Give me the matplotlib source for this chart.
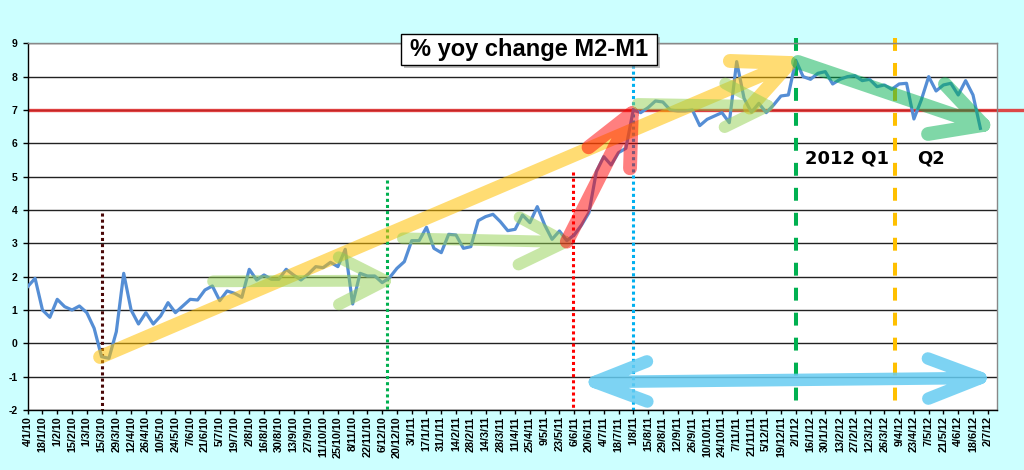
import numpy as np
import pandas as pd
import matplotlib
matplotlib.use("Agg")
import matplotlib.pyplot as plt
from matplotlib.patches import Rectangle

# ---------------- data ----------------
start_date = "2010-01-04"
values = [1.70, 1.95, 1.00, 0.78, 1.32, 1.10, 1.00, 1.12, 0.92, 0.45,
          -0.40, -0.45, 0.35, 2.10, 1.00, 0.58, 0.92, 0.58, 0.82, 1.22,
          0.92, 1.12, 1.32, 1.30, 1.60, 1.72, 1.28, 1.57, 1.50, 1.38,
          2.22, 1.90, 2.05, 1.92, 1.92, 2.22, 2.05, 1.90, 2.08, 2.30,
          2.27, 2.43, 2.30, 2.82, 1.18, 2.10, 2.02, 2.02, 1.82, 1.97,
          2.25, 2.45, 3.08, 3.08, 3.48, 2.85, 2.72, 3.27, 3.25, 2.85,
          2.90, 3.68, 3.80, 3.87, 3.65, 3.38, 3.42, 3.85, 3.62, 4.10,
          3.55, 3.12, 3.37, 3.08, 3.25, 3.55, 3.92, 5.15, 5.60, 5.35,
          5.72, 5.85, 7.00, 6.92, 7.07, 7.27, 7.24, 7.00, 6.97, 6.97,
          7.00, 6.53, 6.72, 6.82, 6.92, 6.62, 8.45, 7.35, 6.93, 7.20,
          6.92, 7.15, 7.42, 7.45, 8.49, 8.00, 7.92, 8.10, 8.15, 7.78,
          7.92, 8.00, 8.03, 7.88, 7.92, 7.70, 7.75, 7.62, 7.78, 7.80,
          6.73, 7.30, 8.00, 7.57, 7.75, 7.80, 7.45, 7.88, 7.45, 6.45]
tick_dates = pd.date_range(start_date, "2012-07-02", freq="14D")
tick_labels = [f"{d.day}/{d.month}/{d.year % 100}" for d in tick_dates]
y_ticks = list(range(-2, 10))
threshold = 7
title = "% yoy change M2-M1"
q_labels = ["2012 Q1", "Q2"]

# ---------------- figure ----------------
W, H = 1024, 470
fig = plt.figure(figsize=(W / 100, H / 100), dpi=100, facecolor="#CCFFFF")
L, R, T, B = 27.7, 997.0, 43.3, 410.0
ax = fig.add_axes([L / W, (H - B) / H, (R - L) / W, (B - T) / H])
ax.set_facecolor("white")

x = np.arange(len(values))
week_of = lambda d: (pd.Timestamp(d) - pd.Timestamp(start_date)).days / 7.0
tick_pos = [week_of(d) for d in tick_dates]

ax.set_xlim(0, 131.25)
ax.set_ylim(-2, 9)
ax.set_yticks(y_ticks)
ax.set_yticklabels([str(v) for v in y_ticks], fontsize=7.5, fontweight="bold",
                   family="Liberation Sans")
ax.set_xticks(tick_pos)
ax.set_xticklabels(tick_labels, rotation=90, fontsize=7.8, fontweight="bold",
                   family="Liberation Sans")
ax.tick_params(axis="x", direction="out", length=3, width=1, pad=1.5, colors="black")
ax.tick_params(axis="y", direction="out", length=3.5, width=1, pad=4, colors="black")
ax.yaxis.grid(True, color="#222222", lw=1.0, zorder=1)
ax.set_axisbelow(True)
for s in ["left", "bottom"]:
    ax.spines[s].set_color("black")
    ax.spines[s].set_linewidth(1.0)
for s in ["top", "right"]:
    ax.spines[s].set_color("#888888")
    ax.spines[s].set_linewidth(1.0)

# threshold line extending to figure edge
ax.plot([0, 131.25 + (W - R) / 7.385], [threshold, threshold], color="#E02828",
        alpha=0.85, lw=2.4, zorder=2, clip_on=False, solid_capstyle="butt")

# data line
ax.plot(x, values, color="#558ED5", lw=2.3, zorder=3, solid_joinstyle="round")

# vertical marker lines
def vline(xw, ytop, color, style, lw=2.2):
    ax.plot([xw, xw], [ytop, -2], color=color, lw=lw, linestyle=style,
            dash_capstyle="butt", zorder=2.5, clip_on=False)

vline(10.0, 3.9, "#4A0808", (0, (1, 1)))
vline(48.6, 4.9, "#00B050", (0, (1, 1)))
vline(73.9, 5.15, "#FF0000", (0, (1, 1)))
vline(82.0, 8.35, "#00B0F0", (0, (1, 1)))
vline(104.1, 9.15, "#00B050", (0, (3.2, 3.0)), lw=2.9)
vline(117.5, 9.15, "#FFC000", (0, (3.2, 3.0)), lw=2.9)

# arrows (open heads, drawn in pixel geometry)
def arrow(x0, y0, x1, y1, color, alpha, lw, head_px, ang=25, both=False, z=4):
    Tr = ax.transData
    p0 = np.array(Tr.transform((x0, y0)))
    p1 = np.array(Tr.transform((x1, y1)))
    d = (p1 - p0) / np.linalg.norm(p1 - p0)

    def head(tip, dv):
        back = -dv
        out = []
        for s in (1, -1):
            a = np.deg2rad(ang * s)
            r = np.array([back[0] * np.cos(a) - back[1] * np.sin(a),
                          back[0] * np.sin(a) + back[1] * np.cos(a)])
            out.append(tip + r * head_px)
        return [out[0], tip, out[1]]

    segs = [[p0, p1], head(p1, d)]
    if both:
        segs.append(head(p0, -d))
    pts = []
    for sg in segs:
        pts.extend(sg)
        pts.append(np.array([np.nan, np.nan]))
    pts = np.array(pts)
    inv = Tr.inverted()
    data = np.array([inv.transform(p) if not np.isnan(p[0]) else p for p in pts])
    ax.plot(data[:, 0], data[:, 1], color=color, alpha=alpha, lw=lw,
            solid_capstyle="round", solid_joinstyle="round", zorder=z, clip_on=False)

arrow(9.8, -0.41, 103.2, 8.41, "#FFC000", 0.55, 10, 60, ang=25)
arrow(25.1, 1.86, 48.4, 1.88, "#92D050", 0.5, 8.5, 52, ang=27)
arrow(50.8, 3.15, 72.8, 3.04, "#92D050", 0.5, 8.5, 52, ang=27)
arrow(73.0, 3.05, 81.8, 6.90, "#FF0000", 0.5, 10, 55, ang=25)
arrow(82.6, 7.18, 100.2, 7.12, "#92D050", 0.5, 8.5, 48, ang=27)
arrow(104.3, 8.44, 129.4, 6.55, "#00B050", 0.5, 10, 56, ang=28)
arrow(76.8, -1.16, 129.0, -1.04, "#66CCF2", 0.85, 9, 56, ang=21, both=True)

# quarter labels
ax.text(110.9, 5.53, q_labels[0], fontsize=13, fontweight="bold", ha="center",
        va="center", family="DejaVu Sans", zorder=6)
ax.text(122.3, 5.53, q_labels[1], fontsize=13, fontweight="bold", ha="center",
        va="center", family="DejaVu Sans", zorder=6)

# title box with shadow
bx0, bx1, by0, by1 = 400.7, 656.7, 34.0, 65.0
fig.add_artist(Rectangle(((bx0 + 3) / W, (H - by1 - 3) / H), (bx1 - bx0) / W,
                         (by1 - by0) / H, transform=fig.transFigure,
                         facecolor="#909090", edgecolor="none", alpha=0.6, zorder=9))
fig.add_artist(Rectangle((bx0 / W, (H - by1) / H), (bx1 - bx0) / W, (by1 - by0) / H,
                         transform=fig.transFigure, facecolor="white",
                         edgecolor="black", lw=1.0, zorder=10))
fig.text((bx0 + bx1) / 2 / W, (H - (by0 + by1) / 2) / H, title, fontsize=17,
         fontweight="bold", family="Liberation Sans", ha="center", va="center",
         zorder=11)

fig.savefig("out.png", dpi=100, facecolor=fig.get_facecolor())
